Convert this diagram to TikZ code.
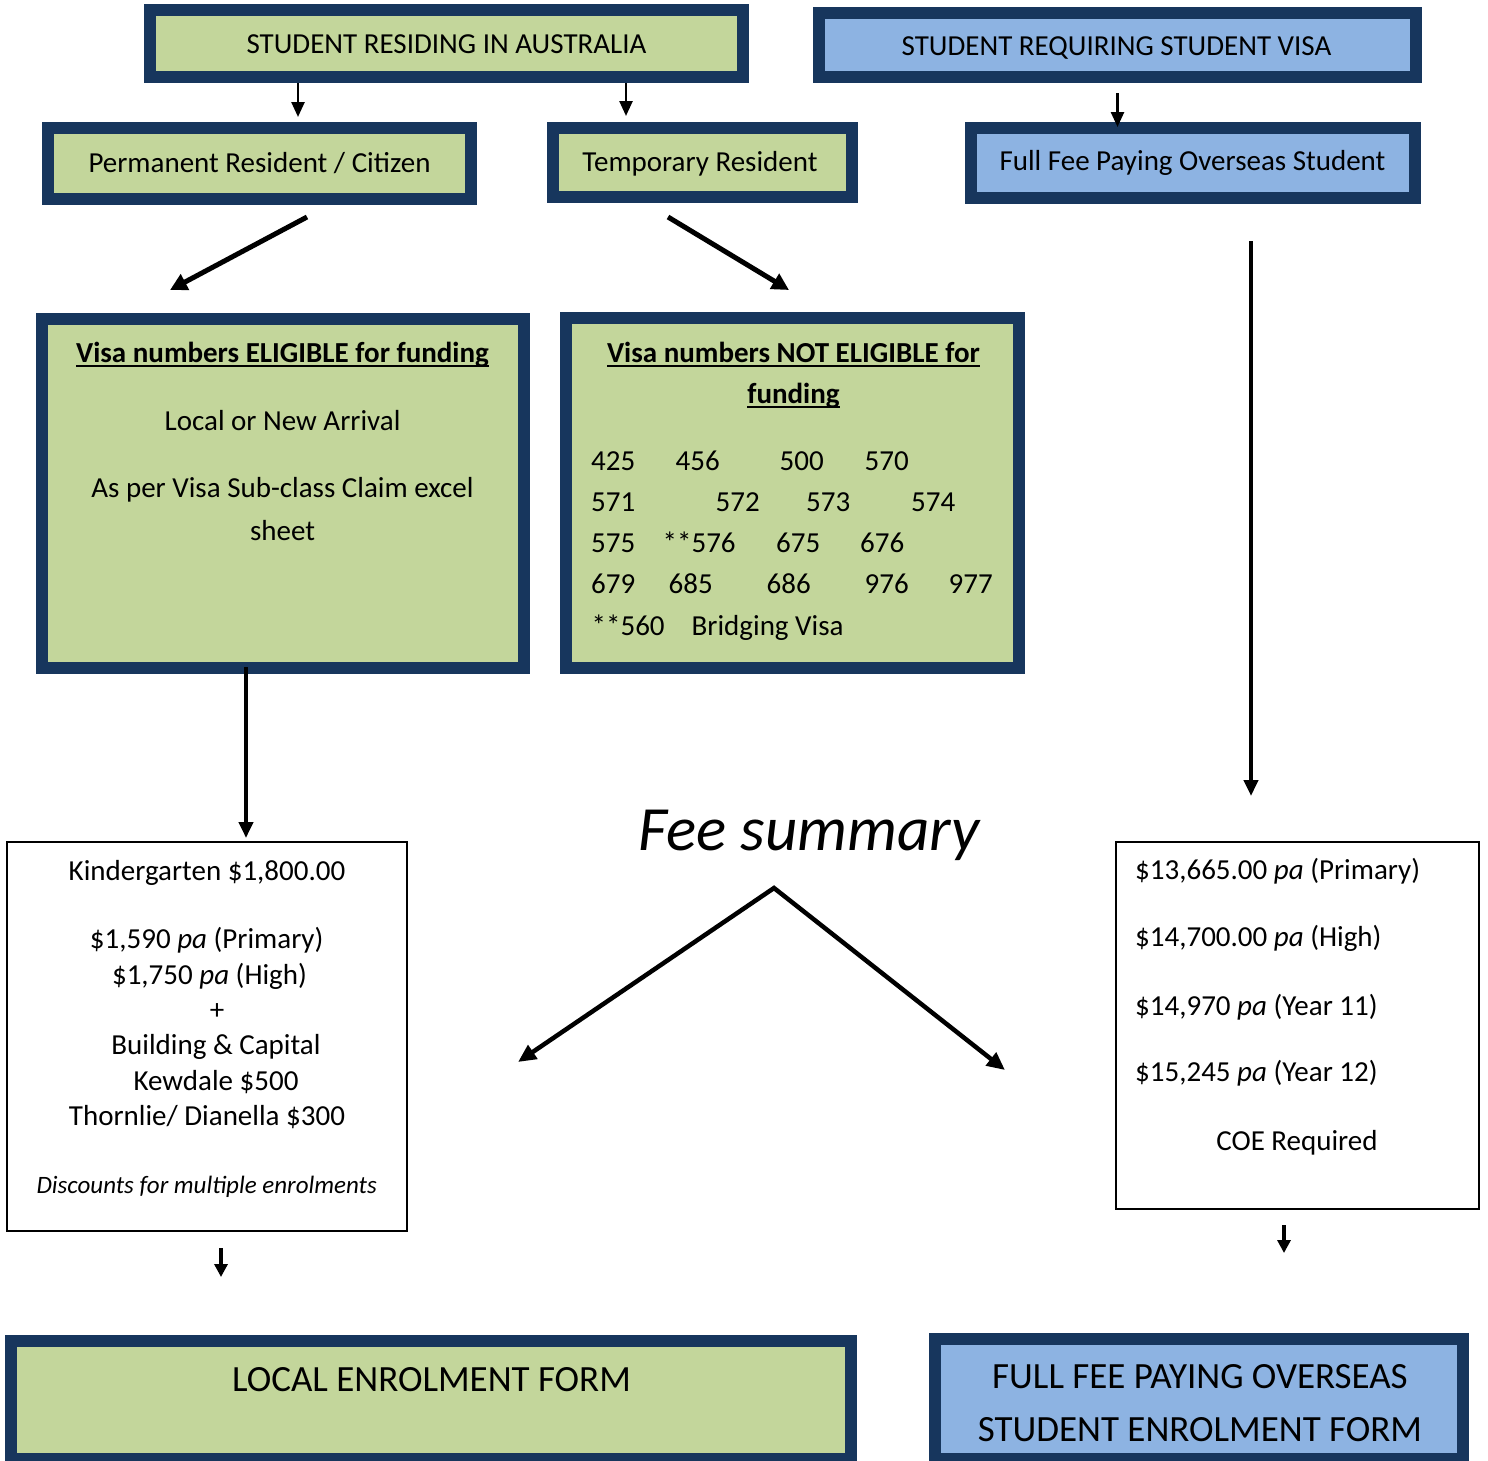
\documentclass[tikz,border=0pt]{standalone}
\usepackage{fontspec}
\setmainfont{Carlito}
\usetikzlibrary{arrows.meta}
\definecolor{navy}{HTML}{17365D}
\definecolor{lgreen}{HTML}{C3D69B}
\definecolor{lblue}{HTML}{8DB3E2}
\newcommand\myul[1]{\setbox0\hbox{#1}\rlap{\rule[-4.2pt]{\wd0}{1.8pt}}\box0}
\begin{document}
\begin{tikzpicture}[x=1pt,y=-1pt,
  gbox/.style={draw=navy,line width=12pt,fill=lgreen,inner sep=0pt},
  bbox/.style={draw=navy,line width=12pt,fill=lblue,inner sep=0pt},
  wbox/.style={draw=black,line width=2pt,fill=white,inner sep=0pt},
  txt/.style={inner sep=0pt,anchor=base,font=\fontsize{29}{35}\selectfont},
  txtl/.style={txt,anchor=base west},
  bigtxt/.style={inner sep=0pt,anchor=base,font=\fontsize{37}{44}\selectfont},
  arrthin/.style={line width=2.5pt,-{Triangle[length=15pt,width=13pt]}},
  arrmid/.style={line width=4pt,-{Triangle[length=16pt,width=14pt]}},
  arrthick/.style={line width=5pt,-{Triangle[length=17pt,width=17pt]}},
  arrfee/.style={line width=4.5pt,{Triangle[length=18pt,width=16pt]}-{Triangle[length=18pt,width=16pt]}},
]
\useasboundingbox (0,0) rectangle (1488,1460);
\fill[white] (0,0) rectangle (1488,1460);
\clip (0,0) rectangle (1488,1460);

% ---- boxes ----
\node[gbox,minimum width=593pt,minimum height=66.7pt] (res) at (446.5,43.3) {};
\node[bbox,minimum width=597pt,minimum height=64pt] (visa) at (1117.5,44.7) {};
\node[gbox,minimum width=423.3pt,minimum height=70.4pt] (perm) at (259.4,163.5) {};
\node[gbox,minimum width=299pt,minimum height=69.6pt] (temp) at (702.8,162.5) {};
\node[bbox,minimum width=444pt,minimum height=70.3pt] (ffos) at (1193,162.8) {};
\node[gbox,minimum width=482.3pt,minimum height=349.6pt] (elig) at (282.9,493.5) {};
\node[gbox,minimum width=453pt,minimum height=349.7pt] (nelig) at (792.5,493.2) {};
\node[wbox,minimum width=400.6pt,minimum height=388.7pt] (kfee) at (207,1036.3) {};
\node[wbox,minimum width=363pt,minimum height=367pt] (ofee) at (1297.5,1025.5) {};
\node[gbox,minimum width=840pt,minimum height=118pt] (lform) at (431,1400) {};
\node[bbox,minimum width=528pt,minimum height=120pt] (oform) at (1199,1399) {};

% ---- box texts ----
\node[txt] (t-res) at (446.5,53.5) {STUDENT RESIDING IN AUSTRALIA};
\node[txt] (t-visa) at (1116.5,55) {STUDENT REQUIRING STUDENT VISA};
\node[txt] (t-perm) at (259.5,172.3) {Permanent Resident / Citizen};
\node[txt] (t-temp) at (700,171) {Temporary Resident};
\node[txt] (t-ffos) at (1192.5,170.5) {Full Fee Paying Overseas Student};

\node[txt] (t-e1) at (282.5,362.7) {\bfseries\myul{Visa numbers ELIGIBLE for funding}};
\node[txt] (t-e2) at (282.5,430) {Local or New Arrival};
\node[txt] (t-e3) at (282.5,497.7) {As per Visa Sub-class Claim excel};
\node[txt] (t-e4) at (282.5,540) {sheet};

\node[txt] (t-n1) at (793.5,362.7) {\bfseries\myul{Visa numbers NOT ELIGIBLE for}};
\node[txt] (t-n2) at (793.5,403.3) {\bfseries\myul{funding}};
% row 1
\node[txtl] (r1a) at (591,470.7) {425};
\node[txtl] (r1b) at (675.5,470.7) {456};
\node[txtl] (r1c) at (779.5,470.7) {500};
\node[txtl] (r1d) at (864.5,470.7) {570};
% row 2
\node[txtl] (r2a) at (591,511.7) {571};
\node[txtl] (r2b) at (715.5,511.7) {572};
\node[txtl] (r2c) at (806,511.7) {573};
\node[txtl] (r2d) at (911,511.7) {574};
% row 3
\node[txtl] (r3a) at (591,552.3) {575};
\node[txtl] (r3b) at (662.5,552.3) {**576};
\node[txtl] (r3c) at (776,552.3) {675};
\node[txtl] (r3d) at (860,552.3) {676};
% row 4
\node[txtl] (r4a) at (591,593.3) {679};
\node[txtl] (r4b) at (668.5,593.3) {685};
\node[txtl] (r4c) at (766.5,593.3) {686};
\node[txtl] (r4d) at (864.5,593.3) {976};
\node[txtl] (r4e) at (948.5,593.3) {977};
% row 5
\node[txtl] (r5a) at (591.5,635) {**560};
\node[txtl] (r5b) at (691.5,635) {Bridging Visa};

% local fees
\node[txt] (k1) at (207,880) {Kindergarten \$1,800.00};
\node[txt] (k2) at (206.7,948.3) {\$1,590 \textit{pa} (Primary)};
\node[txt] (k3) at (209.5,984) {\$1,750 \textit{pa} (High)};
\node[txt] (k4) at (217,1019) {+};
\node[txt] (k5) at (216,1054) {Building \& Capital};
\node[txt] (k6) at (216,1090) {Kewdale \$500};
\node[txt] (k7) at (207,1125.7) {Thornlie/ Dianella \$300};
\node[inner sep=0pt,anchor=base,font=\fontsize{25}{30}\selectfont\itshape] (k8) at (206.7,1193.3) {Discounts for multiple enrolments};

% overseas fees
\node[txtl] (o1) at (1135,879.3) {\$13,665.00 \textit{pa} (Primary)};
\node[txtl] (o2) at (1135,946.7) {\$14,700.00 \textit{pa} (High)};
\node[txtl] (o3) at (1135,1015) {\$14,970 \textit{pa} (Year 11)};
\node[txtl] (o4) at (1135,1081.7) {\$15,245 \textit{pa} (Year 12)};
\node[txt] (o5) at (1297,1150.7) {COE Required};

% forms
\node[bigtxt] (t-lform) at (431.5,1391.7) {LOCAL ENROLMENT FORM};
\node[bigtxt] (t-of1) at (1200,1388) {FULL FEE PAYING OVERSEAS};
\node[bigtxt] (t-of2) at (1200,1441.7) {STUDENT ENROLMENT FORM};

% fee summary
\node[inner sep=0pt,anchor=base,font=\fontsize{63}{70}\selectfont\itshape] (fee) at (809,850) {Fee summary};

% ---- connector coordinates ----
\coordinate (a1s) at (298,83);   \coordinate (a1e) at (298,117);
\coordinate (a2s) at (626,83);   \coordinate (a2e) at (626,116);
\coordinate (a3s) at (1117.5,93); \coordinate (a3e) at (1117.5,127);
\coordinate (d1s) at (307,217);  \coordinate (d1e) at (170,290);
\coordinate (d2s) at (668,217);  \coordinate (d2e) at (789,290);
\coordinate (v1s) at (246,667);  \coordinate (v1e) at (246,838);
\coordinate (v2s) at (1251,241); \coordinate (v2e) at (1251,796);
\coordinate (fapex) at (774,888);
\coordinate (fl) at (518,1062);
\coordinate (fr) at (1005,1070);
\coordinate (s1s) at (221,1248); \coordinate (s1e) at (221,1277);
\coordinate (s2s) at (1284,1225); \coordinate (s2e) at (1284,1253);

% ---- connectors ----
\draw[arrthin] (a1s) -- (a1e);
\draw[arrthin] (a2s) -- (a2e);
\draw[arrthin] (a3s) -- (a3e);
\draw[arrthick] (d1s) -- (d1e);
\draw[arrthick] (d2s) -- (d2e);
\draw[arrmid] (v1s) -- (v1e);
\draw[arrmid] (v2s) -- (v2e);
\draw[arrfee,line join=miter] (fl) -- (fapex) -- (fr);
\draw[line width=4pt,-{Triangle[length=13pt,width=13pt]}] (s1s) -- (s1e);
\draw[line width=4pt,-{Triangle[length=13pt,width=13pt]}] (s2s) -- (s2e);
\end{tikzpicture}
\end{document}
